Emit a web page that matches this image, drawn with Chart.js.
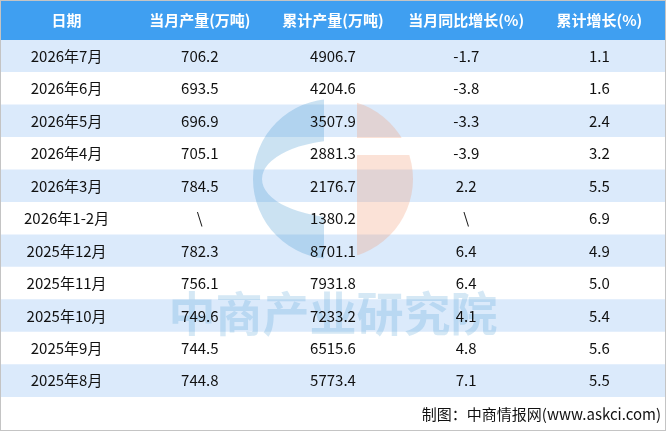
<!DOCTYPE html>
<html>
<head>
<meta charset="utf-8">
<script src="https://cdn.jsdelivr.net/npm/chart.js@4"></script>
<style>
  html, body { margin: 0; padding: 0; background: #fff; }
  #wrap { width: 666px; height: 431px; position: relative; }
</style>
</head>
<body>
<div id="wrap"><canvas id="tableChart"></canvas></div>
<script>
// ===== Table data =====
const headers = ["日期", "当月产量(万吨)", "累计产量(万吨)", "当月同比增长(%)", "累计增长(%)"];
const dates = ["2026年7月", "2026年6月", "2026年5月", "2026年4月", "2026年3月", "2026年1-2月",
  "2025年12月", "2025年11月", "2025年10月", "2025年9月", "2025年8月"];
const monthlyOutput = [706.2, 693.5, 696.9, 705.1, 784.5, null, 782.3, 756.1, 749.6, 744.5, 744.8];
const cumulativeOutput = [4906.7, 4204.6, 3507.9, 2881.3, 2176.7, 1380.2, 8701.1, 7931.8, 7233.2, 6515.6, 5773.4];
const monthlyYoY = [-1.7, -3.8, -3.3, -3.9, 2.2, null, 6.4, 6.4, 4.1, 4.8, 7.1];
const cumulativeGrowth = [1.1, 1.6, 2.4, 3.2, 5.5, 6.9, 4.9, 5.0, 5.4, 5.6, 5.5];

const columns = [dates, monthlyOutput, cumulativeOutput, monthlyYoY, cumulativeGrowth];
const fmt = v => (v === null ? "\\" : (typeof v === "number" ? v.toFixed(1) : v));

const FONT = "'Noto Sans CJK SC', 'DejaVu Sans', sans-serif";

// draws header, watermark, cell texts and footer on top of the row bars
const tablePlugin = {
  id: "tablePlugin",
  beforeDatasetsDraw(chart) {
    const { ctx, chartArea, scales } = chart;
    ctx.save();
    ctx.fillStyle = "#3f9ff1";
    ctx.fillRect(0, 1, chart.width, chartArea.top - 1);
    ctx.fillStyle = "#ffffff";
    ctx.font = "bold 15px " + FONT;
    ctx.textAlign = "center";
    ctx.textBaseline = "middle";
    headers.forEach((h, c) => {
      ctx.fillText(h, scales.x.getPixelForValue(c + 0.5), (chartArea.top + 1) / 2);
    });
    ctx.restore();
  },
  afterDatasetsDraw(chart) {
    const { ctx, chartArea, scales } = chart;
    ctx.save();

    // --- watermark logo ---
    const cx = 333, cy = 179, r = 80;
    ctx.fillStyle = "rgba(70,150,210,0.28)";
    ctx.beginPath();
    ctx.rect(cx - r, cy - r, r - 9, 2 * r);
    ctx.clip();
    ctx.beginPath();
    ctx.arc(cx, cy, r, 0, Math.PI * 2);
    ctx.ellipse(cx + 12, cy, 83, 39, 0, 0, Math.PI * 2);
    ctx.fill("evenodd");
    ctx.restore();

    ctx.save();
    ctx.beginPath();
    ctx.rect(cx + 24, cy - r, r, 39);
    ctx.rect(cx + 24, cy - 24, r, r + 24);
    ctx.clip();
    ctx.fillStyle = "rgba(240,150,110,0.28)";
    ctx.beginPath();
    ctx.arc(cx, cy, r, 0, Math.PI * 2);
    ctx.fill();
    ctx.restore();

    ctx.save();
    ctx.fillStyle = "rgba(80,160,215,0.24)";
    ctx.font = "bold 47px " + FONT;
    ctx.textAlign = "center";
    ctx.textBaseline = "middle";
    ctx.fillText("中商产业研究院", 333, 313);

    // --- cell texts ---
    ctx.fillStyle = "#111111";
    ctx.font = "15px " + FONT;
    columns.forEach((col, c) => {
      const x = scales.x.getPixelForValue(c + 0.5);
      col.forEach((v, i) => {
        ctx.fillText(fmt(v), x, scales.y.getPixelForValue(i));
      });
    });

    // --- footer ---
    ctx.textAlign = "right";
    ctx.fillText("制图：中商情报网(www.askci.com)", chart.width - 5, chartArea.bottom + 17);

    // --- frame ---
    ctx.strokeStyle = "#c4c4c4";
    ctx.lineWidth = 1;
    ctx.strokeRect(0.5, 0.5, chart.width - 1, chart.height - 1);
    ctx.restore();
  }
};

new Chart(document.getElementById("tableChart"), {
  type: "bar",
  data: {
    labels: dates,
    datasets: [{
      data: dates.map(() => [0, headers.length]),
      backgroundColor: dates.map((d, i) => (i % 2 === 0 ? "#dbeafb" : "#ffffff")),
      borderWidth: 0,
      barPercentage: 1,
      categoryPercentage: 1
    }]
  },
  options: {
    indexAxis: "y",
    responsive: true,
    maintainAspectRatio: false,
    animation: false,
    layout: { padding: { top: 40, bottom: 34, left: 0, right: 0 } },
    plugins: { legend: { display: false }, tooltip: { enabled: false } },
    scales: {
      x: { type: "linear", min: 0, max: headers.length, display: false },
      y: { display: false }
    }
  },
  plugins: [tablePlugin]
});
</script>
</body>
</html>
